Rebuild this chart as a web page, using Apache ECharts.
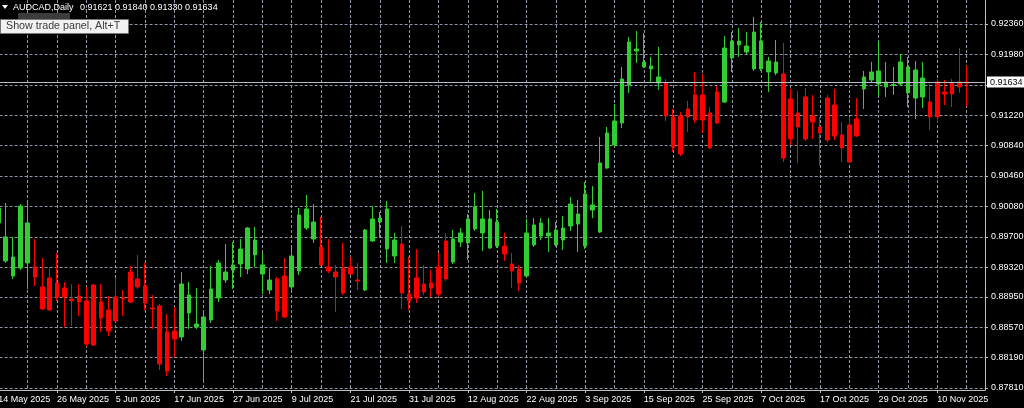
<!DOCTYPE html>
<html><head><meta charset="utf-8">
<script src="https://cdn.jsdelivr.net/npm/echarts@6/dist/echarts.min.js"></script>
<style>html,body{margin:0;padding:0;background:#000;}#c{width:1024px;height:408px;}</style>
</head><body><div id="c"></div><script>
const symbolName = 'AUDCAD,Daily';
const dates = [
'14 May 2025','15 May 2025','16 May 2025','19 May 2025','20 May 2025','21 May 2025','22 May 2025','23 May 2025','26 May 2025','27 May 2025','28 May 2025','29 May 2025','30 May 2025',
'2 Jun 2025','3 Jun 2025','4 Jun 2025','5 Jun 2025','6 Jun 2025','9 Jun 2025','10 Jun 2025','11 Jun 2025','12 Jun 2025','13 Jun 2025','16 Jun 2025','17 Jun 2025','18 Jun 2025','19 Jun 2025','20 Jun 2025','23 Jun 2025','24 Jun 2025','25 Jun 2025','26 Jun 2025','27 Jun 2025','30 Jun 2025',
'1 Jul 2025','2 Jul 2025','3 Jul 2025','4 Jul 2025','7 Jul 2025','8 Jul 2025','9 Jul 2025','10 Jul 2025','11 Jul 2025','14 Jul 2025','15 Jul 2025','16 Jul 2025','17 Jul 2025','18 Jul 2025','21 Jul 2025','22 Jul 2025','23 Jul 2025','24 Jul 2025','25 Jul 2025','28 Jul 2025','29 Jul 2025','30 Jul 2025','31 Jul 2025',
'1 Aug 2025','4 Aug 2025','5 Aug 2025','6 Aug 2025','7 Aug 2025','8 Aug 2025','11 Aug 2025','12 Aug 2025','13 Aug 2025','14 Aug 2025','15 Aug 2025','18 Aug 2025','19 Aug 2025','20 Aug 2025','21 Aug 2025','22 Aug 2025','25 Aug 2025','26 Aug 2025','27 Aug 2025','28 Aug 2025','29 Aug 2025',
'1 Sep 2025','2 Sep 2025','3 Sep 2025','4 Sep 2025','5 Sep 2025','8 Sep 2025','9 Sep 2025','10 Sep 2025','11 Sep 2025','12 Sep 2025','15 Sep 2025','16 Sep 2025','17 Sep 2025','18 Sep 2025','19 Sep 2025','22 Sep 2025','23 Sep 2025','24 Sep 2025','25 Sep 2025','26 Sep 2025','29 Sep 2025','30 Sep 2025',
'1 Oct 2025','2 Oct 2025','3 Oct 2025','6 Oct 2025','7 Oct 2025','8 Oct 2025','9 Oct 2025','10 Oct 2025','13 Oct 2025','14 Oct 2025','15 Oct 2025','16 Oct 2025','17 Oct 2025','20 Oct 2025','21 Oct 2025','22 Oct 2025','23 Oct 2025','24 Oct 2025','27 Oct 2025','28 Oct 2025','29 Oct 2025','30 Oct 2025','31 Oct 2025',
'3 Nov 2025','4 Nov 2025','5 Nov 2025','6 Nov 2025','7 Nov 2025','10 Nov 2025','11 Nov 2025','12 Nov 2025','13 Nov 2025','14 Nov 2025'];

const opens = [
0.89873,0.89398,0.89210,0.89310,0.89373,0.89323,0.89073,0.89185,0.89123,0.89060,
0.88923,0.88960,0.88898,0.89098,0.88885,0.88785,0.88948,0.88935,0.89260,0.89173,
0.89085,0.88810,0.88835,0.88510,0.88523,0.88448,0.88748,0.88573,0.88285,0.88660,
0.88935,0.89160,0.89285,0.89360,0.89298,0.89473,0.89235,0.89035,0.89173,0.89210,
0.89073,0.89273,0.89810,0.89673,0.89573,0.89323,0.89260,0.89310,0.89323,0.89160,
0.89035,0.89648,0.89885,0.89548,0.89460,0.89610,0.88985,0.89185,0.89110,0.89123,
0.89323,0.89648,0.89385,0.89635,0.89623,0.89798,0.89748,0.89560,0.89585,0.89585,
0.89360,0.89298,0.89210,0.89598,0.89710,0.89710,0.89598,0.89660,0.89835,0.89860,
0.89585,0.90035,0.89760,0.90560,0.90848,0.91123,0.91598,0.92023,0.91823,0.91798,
0.91623,0.91623,0.91198,0.91210,0.91298,0.91473,0.91473,0.91248,0.91510,0.91385,
0.91935,0.92098,0.92010,0.91798,0.91798,0.91760,0.91748,0.91735,0.91423,0.91248,
0.91448,0.91210,0.91073,0.91435,0.91348,0.90973,0.91098,0.91173,0.91548,0.91660,
0.91610,0.91573,0.91591,0.91610,0.91498,0.91435,0.91448,0.91385,0.91635,0.91510,
0.91623,0.91635,0.91621];
const highs = [
0.90098,0.90123,0.89698,0.90110,0.90123,0.89673,0.89435,0.89310,0.89498,0.89135,
0.89110,0.89110,0.89073,0.89110,0.89110,0.88960,0.89185,0.89035,0.89335,0.89473,
0.89373,0.88973,0.88860,0.88735,0.88823,0.89260,0.89135,0.89060,0.88748,0.89335,
0.89410,0.89610,0.89635,0.89673,0.89823,0.89823,0.89498,0.89310,0.89198,0.89435,
0.89585,0.90060,0.90223,0.90110,0.89948,0.89673,0.89348,0.89623,0.89448,0.89373,
0.89798,0.90085,0.90010,0.90148,0.89748,0.89835,0.89448,0.89548,0.89348,0.89285,
0.89498,0.89748,0.89785,0.89810,0.89985,0.90248,0.90273,0.90035,0.90048,0.89748,
0.89498,0.89348,0.89923,0.89935,0.89935,0.89935,0.89885,0.89960,0.90198,0.90160,
0.90385,0.90335,0.90948,0.91073,0.91360,0.91823,0.92198,0.92273,0.92248,0.91948,
0.92073,0.91673,0.91298,0.91260,0.91400,0.91760,0.91735,0.91323,0.91585,0.92210,
0.92260,0.92310,0.92260,0.92448,0.92385,0.91948,0.92160,0.92123,0.91548,0.91523,
0.91560,0.91473,0.91198,0.91473,0.91548,0.91135,0.91198,0.91435,0.91773,0.91885,
0.92148,0.91885,0.91823,0.91985,0.91948,0.91898,0.91885,0.91610,0.91673,0.91660,
0.91673,0.92060,0.91840];
const lows = [
0.89835,0.89373,0.89173,0.89285,0.89048,0.89085,0.88785,0.88773,0.88900,0.88573,
0.88585,0.88710,0.88323,0.88335,0.88510,0.88460,0.88635,0.88710,0.88873,0.89048,
0.88785,0.88548,0.88035,0.87960,0.88198,0.88398,0.88548,0.88548,0.87873,0.88623,
0.88885,0.89123,0.89048,0.89198,0.89235,0.89323,0.88985,0.88985,0.88648,0.88685,
0.88998,0.89223,0.89785,0.89623,0.89335,0.89248,0.88760,0.88973,0.89223,0.89035,
0.89023,0.89635,0.89685,0.89373,0.89373,0.88798,0.88785,0.88873,0.88973,0.88948,
0.88948,0.89148,0.89360,0.89573,0.89410,0.89773,0.89523,0.89548,0.89560,0.89398,
0.89060,0.89023,0.89198,0.89573,0.89660,0.89510,0.89573,0.89535,0.89773,0.89510,
0.89548,0.89935,0.89748,0.90548,0.90823,0.91060,0.91498,0.91873,0.91810,0.91623,
0.91535,0.91148,0.90760,0.90710,0.91010,0.91123,0.90998,0.90798,0.91110,0.91373,
0.91760,0.91948,0.91985,0.91773,0.91773,0.91510,0.91723,0.90635,0.90848,0.90623,
0.90898,0.90923,0.90585,0.90885,0.90910,0.90635,0.90623,0.90948,0.91298,0.91635,
0.91460,0.91448,0.91473,0.91585,0.91323,0.91173,0.91310,0.91035,0.91123,0.91348,
0.91323,0.91498,0.91330];
const closes = [
0.90060,0.89698,0.89448,0.90085,0.89873,0.89198,0.88798,0.88785,0.88948,0.88948,
0.88900,0.88885,0.88360,0.88348,0.88685,0.88523,0.88648,0.88923,0.88885,0.89073,
0.88873,0.88798,0.88110,0.88023,0.88423,0.89110,0.88973,0.88610,0.88698,0.89048,
0.89373,0.89260,0.89348,0.89548,0.89810,0.89660,0.89348,0.89160,0.88773,0.88698,
0.89460,0.89973,0.90048,0.89885,0.89348,0.89273,0.89198,0.88998,0.89235,0.89148,
0.89785,0.89923,0.89935,0.90048,0.89660,0.88998,0.88900,0.88935,0.89010,0.89060,
0.88985,0.89173,0.89673,0.89748,0.89923,0.90073,0.89923,0.89923,0.89885,0.89485,
0.89273,0.89123,0.89748,0.89848,0.89873,0.89748,0.89785,0.89810,0.90110,0.89985,
0.90235,0.90098,0.90623,0.90998,0.91148,0.91673,0.92135,0.92048,0.91885,0.91835,
0.91698,0.91210,0.90823,0.90735,0.91198,0.91160,0.91160,0.90810,0.91123,0.92060,
0.92148,0.92148,0.92085,0.92260,0.92148,0.91898,0.91885,0.90685,0.90923,0.91073,
0.90923,0.91135,0.90998,0.90910,0.90960,0.90810,0.90635,0.90960,0.91698,0.91760,
0.91773,0.91635,0.91604,0.91885,0.91823,0.91785,0.91685,0.91198,0.91198,0.91485,
0.91485,0.91573,0.91634];
const priceTicks = [0.87810,0.88190,0.88570,0.88950,0.89320,0.89700,0.90080,0.90460,0.90840,0.91220,0.91600,0.91980,0.92360];

const PAD = 2;
const categories = dates.concat(new Array(PAD).fill(''));
const last = closes.length - 1;
const candleData = opens.map((o, i) => {
  const v = [o, closes[i], lows[i], highs[i]];
  if (i === last) return { value: v, itemStyle: { color: '#ff0000', borderColor: '#ff0000' } };
  return v;
});
const FONT = "'Liberation Sans Narrow','Liberation Sans',sans-serif";
const GRID = '#8d97a6';
const AX = '#c0c0c0';
const labelEvery = (i) => i % 8 === 0 && i < dates.length;

const chart = echarts.init(document.getElementById('c'), null, { renderer: 'canvas' });
chart.setOption({
  backgroundColor: '#000',
  animation: false,
  grid: { left: -5.4, right: 39, top: 0, bottom: 18, containLabel: false, outerBoundsMode: 'none' },
  xAxis: {
    type: 'category', data: categories, boundaryGap: true,
    axisLine: { lineStyle: { color: AX, width: 1 } },
    axisTick: { show: true, interval: labelEvery, alignWithLabel: true, length: 3, lineStyle: { color: AX } },
    axisLabel: { interval: labelEvery, align: 'left', color: '#fff', fontSize: 9, fontFamily: FONT, margin: 5, hideOverlap: false },
    splitLine: { show: true, interval: (i) => i % 4 === 0, alignWithLabel: true, lineStyle: { color: GRID, type: [3, 2], width: 1 } }
  },
  yAxis: {
    type: 'value', position: 'right', min: 0.87785, max: 0.92660,
    axisLine: { show: true, lineStyle: { color: AX } },
    axisTick: { show: true, customValues: priceTicks, length: 3, lineStyle: { color: AX } },
    axisLabel: { customValues: priceTicks, color: '#fff', fontSize: 9, fontFamily: FONT, margin: 6, hideOverlap: false,
      formatter: (v) => Math.abs(v - closes[last]) < 0.0005 ? '' : v.toFixed(5) },
    splitLine: { show: true, lineStyle: { color: GRID, type: [3, 2], width: 1 } }
  },
  series: [{
    type: 'candlestick', data: candleData, barWidth: 4,
    itemStyle: { color: '#32cd32', color0: '#ff0000', borderColor: '#32cd32', borderColor0: '#ff0000', borderWidth: 1 },
    markLine: {
      silent: true, symbol: 'none', animation: false, precision: 5,
      data: [{ yAxis: closes[last] }],
      lineStyle: { color: '#b4bcc8', type: 'solid', width: 1 },
      label: { position: 'end', formatter: closes[last].toFixed(5), backgroundColor: '#fff', color: '#000',
        fontSize: 9, fontFamily: FONT, padding: [1, 3, 1, 3], distance: 2 }
    }
  }],
  graphic: [
    { type: 'polygon', z: 100, shape: { points: [[2, 5], [8, 5], [5, 9]] }, style: { fill: '#fff' } },
    { type: 'text', z: 100, x: 13, y: 3, style: { text: symbolName, fill: '#fff', font: "9px 'Liberation Sans'" } },
    { type: 'text', z: 100, x: 80, y: 3, style: { text: [opens[last], highs[last], lows[last], closes[last]].map(v => v.toFixed(5)).join(' '), fill: '#fff', font: "9px 'Liberation Sans'" } },
    { type: 'rect', z: 100, shape: { x: 18, y: 13, width: 52, height: 7 }, style: { fill: '#3c3c3c' } },
    { type: 'rect', z: 101, shape: { x: 0.5, y: 19.5, width: 128, height: 14 }, style: { fill: '#f2f2f2', stroke: '#767676', lineWidth: 1 } },
    { type: 'text', z: 102, x: 6, y: 21, style: { text: 'Show trade panel, Alt+T', fill: '#3c3c3c', font: "10.7px 'Liberation Sans'" } }
  ]
});
</script></body></html>
